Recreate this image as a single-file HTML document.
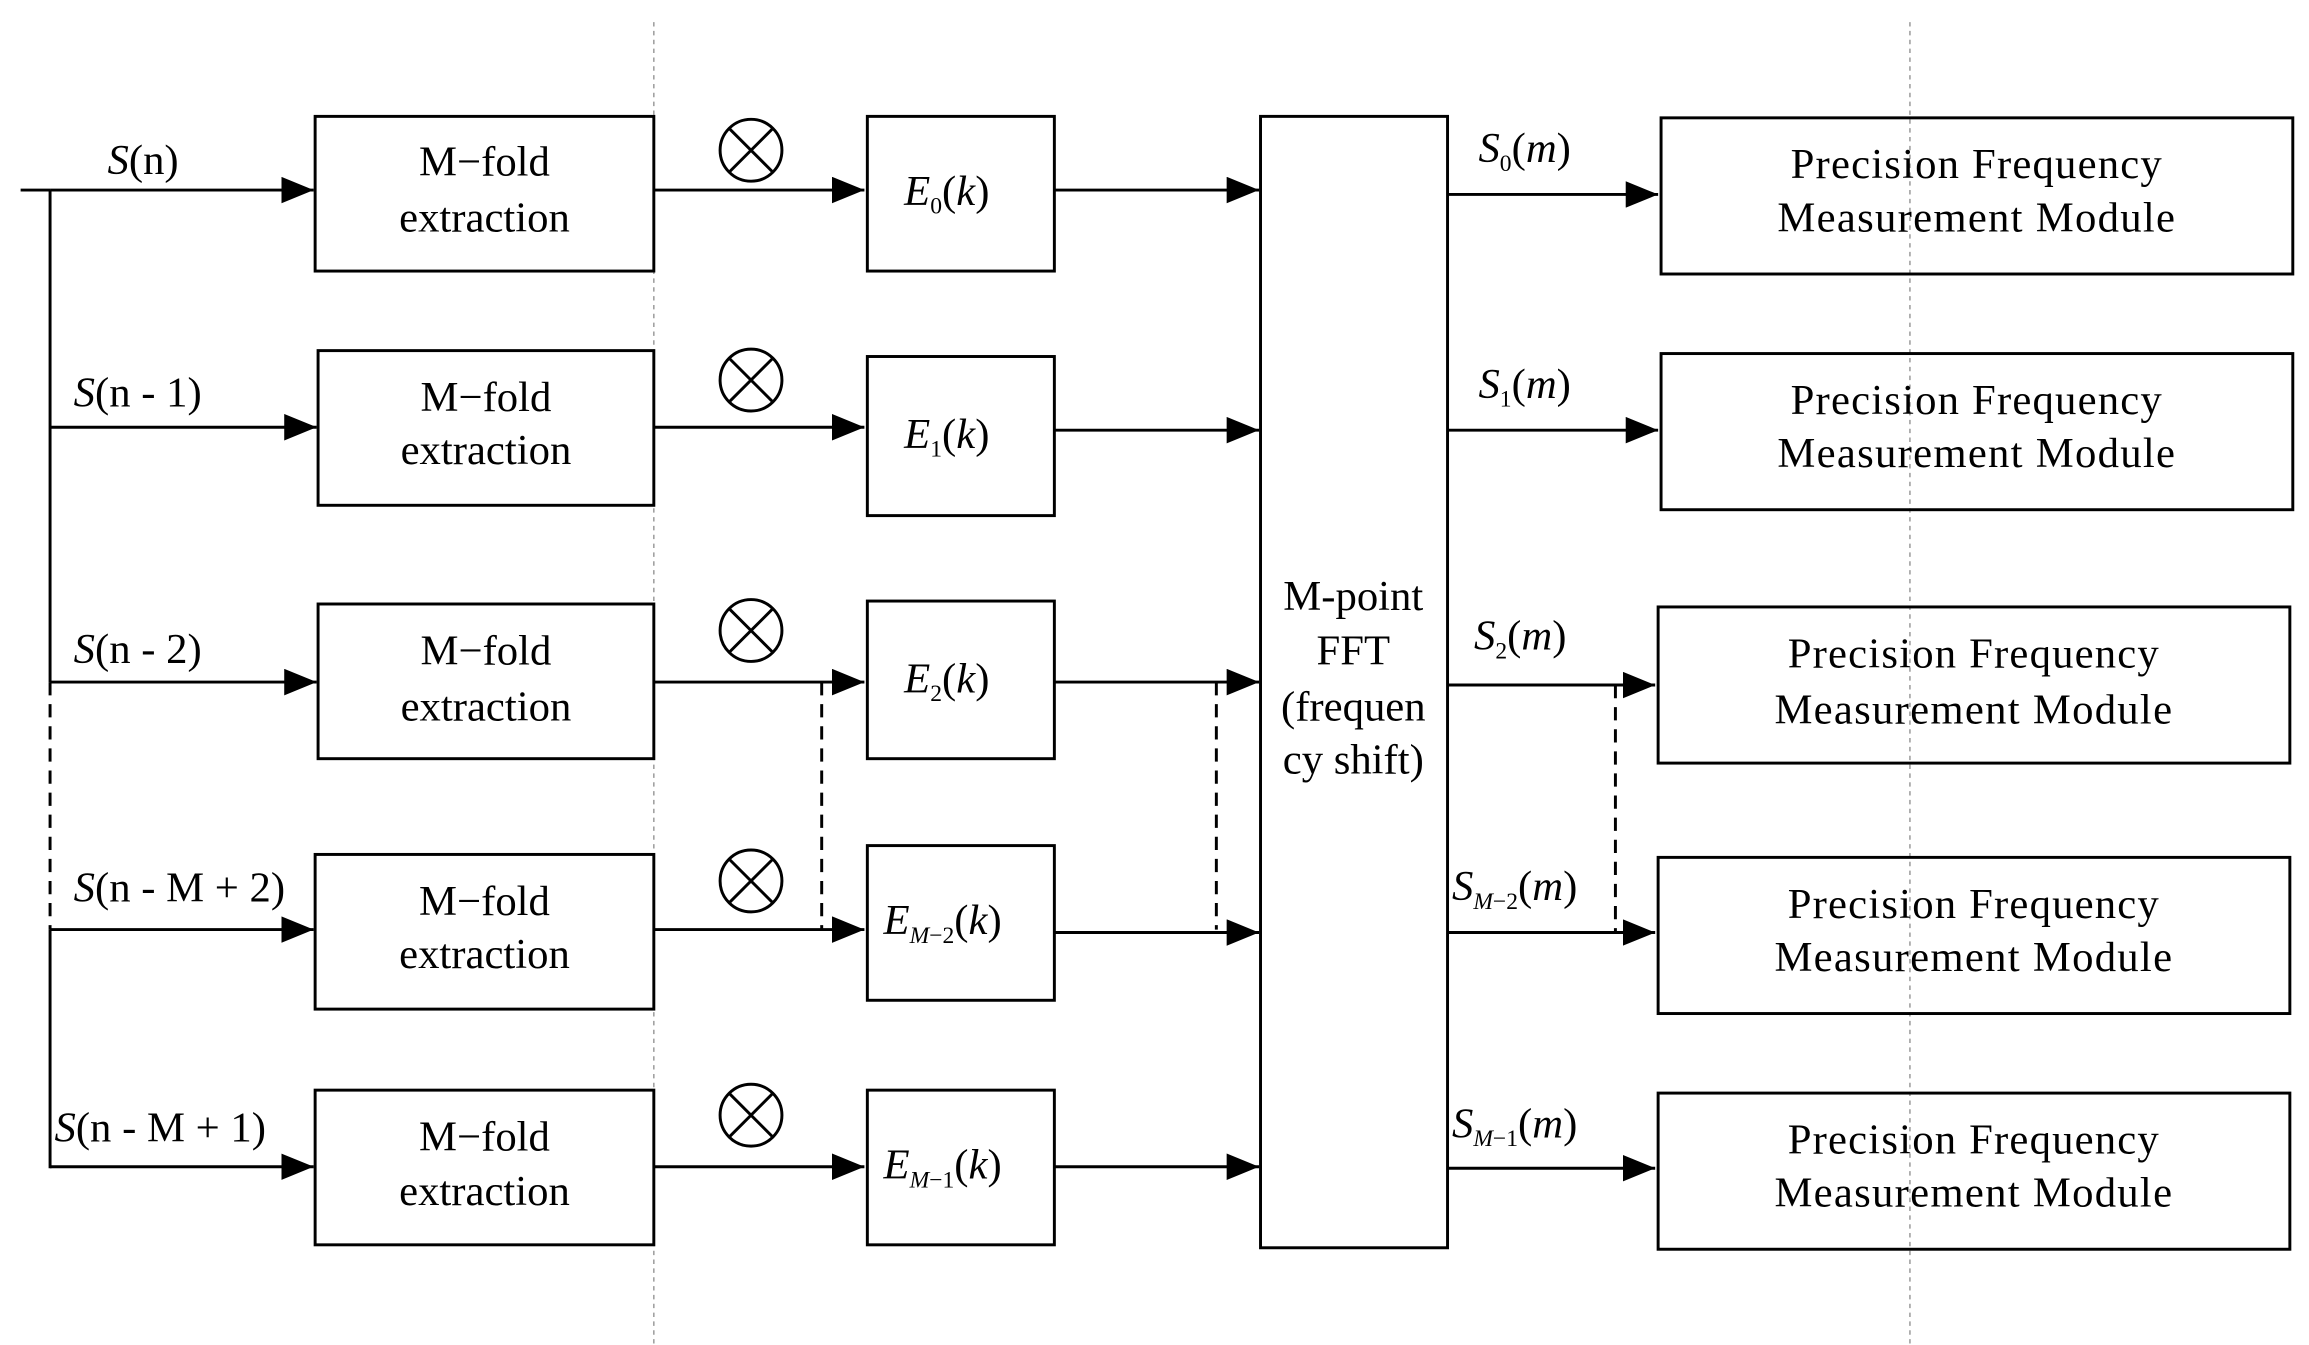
<!DOCTYPE html>
<html><head><meta charset="utf-8"><style>html,body{margin:0;padding:0;background:#fff}svg{display:block}</style></head><body>
<svg width="2309" height="1345" viewBox="0 0 1568 913" preserveAspectRatio="none" xmlns="http://www.w3.org/2000/svg" font-family="Liberation Serif, serif" font-size="29" fill="#000">
<defs>
<marker id="b" viewBox="0 0 10 10" refX="10" refY="5" markerWidth="22" markerHeight="18" markerUnits="userSpaceOnUse" orient="auto" preserveAspectRatio="none"><path d="M0,0L10,5L0,10z"/></marker></defs>
<g stroke="#999" stroke-width="1" stroke-dasharray="3,3"><line x1="444" y1="15" x2="444" y2="913"/><line x1="1297" y1="15" x2="1297" y2="913"/></g>
<g stroke="#000" stroke-width="2" fill="none">
<line x1="14" y1="129" x2="34" y2="129"/>
<line x1="34" y1="129" x2="34" y2="463"/><line x1="34" y1="463" x2="34" y2="631" stroke-dasharray="9,6"/><line x1="34" y1="631" x2="34" y2="793"/>
<g marker-end="url(#b)">
<line x1="34" y1="129" x2="213" y2="129"/><line x1="34" y1="290" x2="215" y2="290"/><line x1="34" y1="463" x2="215" y2="463"/><line x1="34" y1="631" x2="213" y2="631"/><line x1="34" y1="792" x2="213" y2="792"/>
<line x1="444" y1="129" x2="587" y2="129"/><line x1="444" y1="290" x2="587" y2="290"/><line x1="444" y1="463" x2="587" y2="463"/><line x1="444" y1="631" x2="587" y2="631"/><line x1="444" y1="792" x2="587" y2="792"/>
<line x1="716" y1="129" x2="855" y2="129"/><line x1="716" y1="292" x2="855" y2="292"/><line x1="716" y1="463" x2="855" y2="463"/><line x1="716" y1="633" x2="855" y2="633"/><line x1="716" y1="792" x2="855" y2="792"/>
<line x1="983" y1="132" x2="1126" y2="132"/><line x1="983" y1="292" x2="1126" y2="292"/><line x1="983" y1="465" x2="1124" y2="465"/><line x1="983" y1="633" x2="1124" y2="633"/><line x1="983" y1="793" x2="1124" y2="793"/>
</g>
<g stroke-dasharray="9,6"><line x1="558" y1="463" x2="558" y2="631"/><line x1="826" y1="463" x2="826" y2="631"/><line x1="1097" y1="465" x2="1097" y2="633"/></g>
<rect x="214" y="79" width="230" height="105"/><rect x="216" y="238" width="228" height="105"/><rect x="216" y="410" width="228" height="105"/><rect x="214" y="580" width="230" height="105"/><rect x="214" y="740" width="230" height="105"/>
<rect x="589" y="79" width="127" height="105"/><rect x="589" y="242" width="127" height="108"/><rect x="589" y="408" width="127" height="107"/><rect x="589" y="574" width="127" height="105"/><rect x="589" y="740" width="127" height="105"/>
<rect x="856" y="79" width="127" height="768"/>
<rect x="1128" y="80" width="429" height="106"/><rect x="1128" y="240" width="429" height="106"/><rect x="1126" y="412" width="429" height="106"/><rect x="1126" y="582" width="429" height="106"/><rect x="1126" y="742" width="429" height="106"/>
</g>
<g stroke="#000" stroke-width="2" fill="none">
<g id="x"><circle cx="510" cy="102" r="21"/><line x1="495" y1="87" x2="525" y2="117"/><line x1="525" y1="87" x2="495" y2="117"/></g>
<use href="#x" y="156"/><use href="#x" y="326"/><use href="#x" y="496"/><use href="#x" y="655"/>
</g>
<g text-anchor="middle">
<text x="329" y="119">M−fold</text><text x="329" y="157">extraction</text>
<text x="330" y="279">M−fold</text><text x="330" y="315">extraction</text>
<text x="330" y="451">M−fold</text><text x="330" y="489">extraction</text>
<text x="329" y="621">M−fold</text><text x="329" y="657">extraction</text>
<text x="329" y="781">M−fold</text><text x="329" y="818">extraction</text>
<text x="919" y="414">M-point</text><text x="919" y="451">FFT</text><text x="919" y="489">(frequen</text><text x="919" y="525">cy shift)</text>
<text x="1342" y="121" textLength="252">Precision Frequency</text><text x="1342" y="157" textLength="270">Measurement Module</text>
<text x="1342" y="281" textLength="252">Precision Frequency</text><text x="1342" y="317" textLength="270">Measurement Module</text>
<text x="1340" y="453" textLength="252">Precision Frequency</text><text x="1340" y="491" textLength="270">Measurement Module</text>
<text x="1340" y="623" textLength="252">Precision Frequency</text><text x="1340" y="659" textLength="270">Measurement Module</text>
<text x="1340" y="783" textLength="252">Precision Frequency</text><text x="1340" y="819" textLength="270">Measurement Module</text>
</g>
<g>
<text x="73" y="118"><tspan font-style="italic">S</tspan>(n)</text>
<text x="50" y="276"><tspan font-style="italic">S</tspan>(n - 1)</text>
<text x="50" y="450"><tspan font-style="italic">S</tspan>(n - 2)</text>
<text x="50" y="612"><tspan font-style="italic">S</tspan>(n - M + 2)</text>
<text x="37" y="775"><tspan font-style="italic">S</tspan>(n - M + 1)</text>
<text x="614" y="139"><tspan font-style="italic">E</tspan><tspan font-size="16" dy="6">0</tspan><tspan dy="-6">(<tspan font-style="italic">k</tspan>)</tspan></text>
<text x="614" y="304"><tspan font-style="italic">E</tspan><tspan font-size="16" dy="6">1</tspan><tspan dy="-6">(<tspan font-style="italic">k</tspan>)</tspan></text>
<text x="614" y="470"><tspan font-style="italic">E</tspan><tspan font-size="16" dy="6">2</tspan><tspan dy="-6">(<tspan font-style="italic">k</tspan>)</tspan></text>
<text x="600" y="634"><tspan font-style="italic">E</tspan><tspan font-size="16" dy="6" font-style="italic">M</tspan><tspan font-size="16">−2</tspan><tspan dy="-6">(<tspan font-style="italic">k</tspan>)</tspan></text>
<text x="600" y="800"><tspan font-style="italic">E</tspan><tspan font-size="16" dy="6" font-style="italic">M</tspan><tspan font-size="16">−1</tspan><tspan dy="-6">(<tspan font-style="italic">k</tspan>)</tspan></text>
<text x="1004" y="110"><tspan font-style="italic">S</tspan><tspan font-size="16" dy="6">0</tspan><tspan dy="-6">(<tspan font-style="italic">m</tspan>)</tspan></text>
<text x="1004" y="270"><tspan font-style="italic">S</tspan><tspan font-size="16" dy="6">1</tspan><tspan dy="-6">(<tspan font-style="italic">m</tspan>)</tspan></text>
<text x="1001" y="441"><tspan font-style="italic">S</tspan><tspan font-size="16" dy="6">2</tspan><tspan dy="-6">(<tspan font-style="italic">m</tspan>)</tspan></text>
<text x="986" y="611"><tspan font-style="italic">S</tspan><tspan font-size="16" dy="6" font-style="italic">M</tspan><tspan font-size="16">−2</tspan><tspan dy="-6">(<tspan font-style="italic">m</tspan>)</tspan></text>
<text x="986" y="772"><tspan font-style="italic">S</tspan><tspan font-size="16" dy="6" font-style="italic">M</tspan><tspan font-size="16">−1</tspan><tspan dy="-6">(<tspan font-style="italic">m</tspan>)</tspan></text>
</g>
</svg>
</body></html>
